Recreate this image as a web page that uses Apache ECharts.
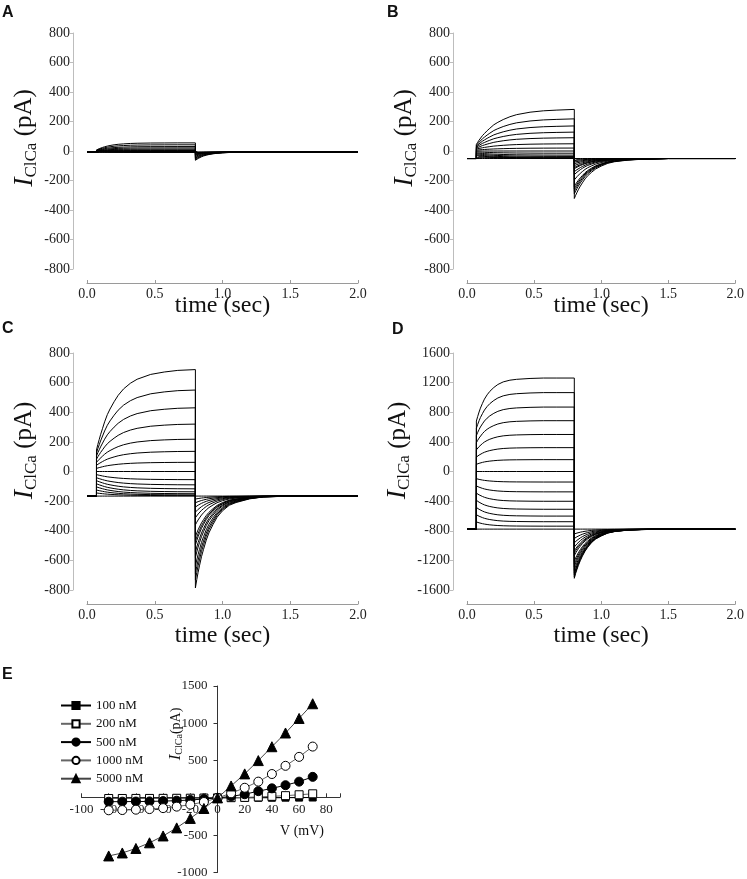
<!DOCTYPE html>
<html><head><meta charset="utf-8">
<script src="https://cdn.jsdelivr.net/npm/echarts@6/dist/echarts.min.js"></script>
<style>html,body{margin:0;padding:0;background:#fff}#c{width:747px;height:879px}</style>
</head><body><div id="c"></div><script>
// ---- data ----
const voltages = [-80,-70,-60,-50,-40,-30,-20,-10,0,10,20,30,40,50,60,70];
// steady-state I-V (panel E), pA
const iv100  = [-4,-4,-4,-3,-3,-2,-2,-1,0,1,1,2,2,3,4,5];
const iv200  = [-8,-8,-7,-7,-6,-5,-4,-2,0,3,7,13,21,30,42,55];
const iv500  = [-51,-50,-49,-47,-43,-37,-28,-15,0,20,49,90,128,170,218,282];
const iv1000 = [-166,-163,-158,-150,-137,-117,-90,-55,0,62,136,218,320,430,550,688];
const iv5000 = [-778,-738,-678,-602,-510,-402,-275,-142,0,160,322,500,686,870,1065,1262];
// instantaneous current at pulse onset (t = 0.07 s), per voltage
const initA = [-8,-7,-6,-5,-4,-3,-2,-1,0,1,2,3,4,5,6,7];
const initB = [-51,-45,-38,-32,-26,-19,-13,-6,0,6,13,19,26,32,38,45];
const initC = [-166,-145,-125,-104,-83,-62,-42,-21,0,21,42,62,83,104,125,145];
const initD = [-778,-681,-584,-486,-389,-292,-195,-97,0,97,195,292,389,486,584,681];
// tail current peak at t = 0.8 s, per voltage
const tailPkA = [-8,-9,-9,-11,-12,-13,-16,-16,-20,-24,-28,-35,-42,-48,-56,-63];
const tailPkB = [-51,-57,-65,-75,-86,-99,-112,-120,-140,-160,-196,-240,-256,-272,-291,-322];
const tailPkC = [-166,-186,-211,-240,-274,-312,-360,-440,-470,-496,-544,-581,-640,-688,-733,-786];
const tailPkD = [-778,-843,-904,-963,-1020,-1072,-1100,-1136,-1210,-1250,-1288,-1333,-1372,-1392,-1420,-1442];
// activation time course (fraction of the way from onset to steady state)
const actT = [0,0.01,0.02,0.03,0.045,0.06,0.08,0.1,0.13,0.16,0.2,0.25,0.3,0.4,0.5,0.6,0.73];
const actA = [0,0.1,0.18,0.26,0.36,0.45,0.55,0.63,0.73,0.8,0.86,0.92,0.95,0.98,0.99,1,1];
const actB = [0,0.06,0.12,0.17,0.25,0.31,0.39,0.46,0.56,0.63,0.71,0.79,0.85,0.92,0.96,0.98,1];
const actC = [0,0.07,0.13,0.19,0.27,0.35,0.44,0.51,0.6,0.68,0.76,0.83,0.88,0.94,0.97,0.99,1];
const actD = [0,0.11,0.21,0.3,0.41,0.51,0.61,0.69,0.78,0.85,0.91,0.95,0.97,0.99,1,1,1];
// tail time course (fraction of tail amplitude remaining)
const tailT = [0,0.01,0.02,0.03,0.045,0.06,0.08,0.1,0.13,0.16,0.2,0.25,0.3,0.4,0.5,0.7,1.2];
const decA = [1,0.88,0.78,0.69,0.57,0.47,0.37,0.29,0.2,0.14,0.08,0.04,0.02,0.01,0,0,0];
const decB = [1,0.92,0.85,0.78,0.69,0.61,0.51,0.43,0.34,0.26,0.19,0.12,0.08,0.04,0.02,0,0];
const decC = [1,0.91,0.83,0.76,0.66,0.58,0.48,0.4,0.31,0.23,0.16,0.1,0.07,0.03,0.01,0,0];
const decD = [1,0.9,0.82,0.74,0.64,0.55,0.45,0.37,0.27,0.2,0.14,0.08,0.05,0.02,0.01,0,0];
const pulseOn = 0.07, pulseOff = 0.8, tEnd = 2.0;
const timeTicks = ['0.0','0.5','1.0','1.5','2.0'];
const seriesNames = ['100 nM','200 nM','500 nM','1000 nM','5000 nM'];

// ---- layout / style ----
const SERIF = 'Liberation Serif';
const panels = [
  {ss: iv200,  init: initA, pk: tailPkA, act: actA, dec: decA, left: 87,  top: 33,  h: 236, min: -800,  max: 800,  step: 200, gapX: 11, shift: 26},
  {ss: iv500,  init: initB, pk: tailPkB, act: actB, dec: decB, left: 467, top: 33,  h: 236, min: -800,  max: 800,  step: 200, gapX: 11, shift: 26},
  {ss: iv1000, init: initC, pk: tailPkC, act: actC, dec: decC, left: 87,  top: 353, h: 237, min: -800,  max: 800,  step: 200, gapX: 20, shift: 42},
  {ss: iv5000, init: initD, pk: tailPkD, act: actD, dec: decD, left: 467, top: 353, h: 237, min: -1600, max: 1600, step: 400, gapX: 20, shift: 42}
];

const grids = [], xAxes = [], yAxes = [], series = [];
const yName = '{i|I}{s|ClCa}{p| (pA)}';
panels.forEach((p, gi) => {
  grids.push({left: p.left, top: p.top, width: 271, height: p.h, containLabel: false});
  xAxes.push({
    gridIndex: gi, type: 'value', min: 0, max: 2, interval: 0.5, offset: 14,
    axisLine: {onZero: false, lineStyle: {color: '#9a9a9a', width: 1}},
    axisTick: {show: true, inside: true, length: 3, lineStyle: {color: '#9a9a9a'}},
    axisLabel: {margin: 4, fontSize: 14, color: '#222', fontFamily: SERIF,
      formatter: v => timeTicks[Math.round(v / 0.5)]},
    splitLine: {show: false},
    name: 'time (sec)', nameLocation: 'middle', nameGap: p.gapX, nameMoveOverlap: false,
    nameTextStyle: {fontSize: 24, color: '#111', fontFamily: SERIF}
  });
  yAxes.push({
    gridIndex: gi, type: 'value', min: p.min, max: p.max, interval: p.step, offset: 14,
    axisLine: {show: true, onZero: false, lineStyle: {color: '#bdbdbd', width: 1}},
    axisTick: {show: true, length: 3, lineStyle: {color: '#bdbdbd'}},
    axisLabel: {margin: 3, fontSize: 14, color: '#222', fontFamily: SERIF, formatter: v => String(v)},
    splitLine: {show: false},
    name: yName, nameLocation: 'middle', nameGap: 33,
    nameTextStyle: {color: '#111', fontFamily: SERIF, padding: [0, 0, 0, p.shift],
      rich: {
        i: {fontSize: 28, fontStyle: 'italic', fontFamily: SERIF, color: '#111'},
        s: {fontSize: 17, fontFamily: SERIF, color: '#111', padding: [14, 0, 0, 0]},
        p: {fontSize: 25, fontFamily: SERIF, color: '#111'}
      }}
  });
  const hold = p.ss[0];
  voltages.forEach((v, k) => {
    const pts = [[0, hold], [pulseOn, hold]];
    actT.forEach((t, i) => pts.push([pulseOn + t, p.init[k] + (p.ss[k] - p.init[k]) * p.act[i]]));
    tailT.forEach((t, i) => pts.push([pulseOff + t, hold + (p.pk[k] - hold) * p.dec[i]]));
    series.push({
      type: 'line', xAxisIndex: gi, yAxisIndex: gi, data: pts, symbol: 'none',
      lineStyle: {color: '#000', width: 1}, silent: true, animation: false, z: 2
    });
  });
});

// panel E  (axes cross at the origin)
const gE = panels.length;
const eLeft = 81.5, eTop = 686, eW = 258.4, eH = 188;
grids.push({left: eLeft, top: eTop, width: eW, height: eH, containLabel: false});
xAxes.push({
  gridIndex: gE, type: 'value', min: -100, max: 90, interval: 20, position: 'bottom',
  offset: -(eH * 1000 / 2500),
  axisLine: {onZero: false, lineStyle: {color: '#333', width: 1}},
  axisTick: {show: true, inside: true, length: 4, lineStyle: {color: '#333'}},
  axisLabel: {margin: 6, fontSize: 13, color: '#222', fontFamily: SERIF,
    formatter: v => (v > 80 ? '' : String(v))},
  splitLine: {show: false}
});
yAxes.push({
  gridIndex: gE, type: 'value', min: -1000, max: 1500, interval: 500, position: 'left',
  offset: -(eW * 100 / 190),
  axisLine: {onZero: false, lineStyle: {color: '#333', width: 1}},
  axisTick: {show: true, length: 4, lineStyle: {color: '#333'}},
  axisLabel: {margin: 10, fontSize: 13, color: '#222', fontFamily: SERIF, formatter: v => String(v)},
  splitLine: {show: false}
});
const ivSets = [iv100, iv200, iv500, iv1000, iv5000];
const symbols = ['rect', 'rect', 'circle', 'circle', 'triangle'];
const sizes = [7, 8, 9, 9, 10];
const filled = [true, false, true, false, true];
const legendLine = ['#000', '#666', '#000', '#666', '#444'];
ivSets.forEach((arr, j) => {
  series.push({
    name: seriesNames[j], type: 'line', xAxisIndex: gE, yAxisIndex: gE,
    data: voltages.map((v, k) => [v, arr[k]]),
    symbol: symbols[j], symbolSize: sizes[j], showAllSymbol: true,
    itemStyle: {color: filled[j] ? '#000' : '#fff', borderColor: '#000', borderWidth: 1},
    lineStyle: {color: legendLine[j], width: 1},
    animation: false, z: 3 + j
  });
});

const chart = echarts.init(document.getElementById('c'), null, {renderer: 'canvas'});
chart.setOption({
  backgroundColor: '#fff',
  animation: false,
  grid: grids, xAxis: xAxes, yAxis: yAxes, series: series,
  legend: {
    data: seriesNames, orient: 'vertical', left: 55, top: 694,
    itemWidth: 30, itemHeight: 9, itemGap: 5.3,
    textStyle: {fontFamily: SERIF, fontSize: 13, color: '#111'},
    selectedMode: false
  },
  graphic: [
    {type: 'text', left: 2, top: 5, style: {text: 'A', font: 'bold 16px "Liberation Sans"', fill: '#111'}},
    {type: 'text', left: 387, top: 5, style: {text: 'B', font: 'bold 16px "Liberation Sans"', fill: '#111'}},
    {type: 'text', left: 2, top: 321, style: {text: 'C', font: 'bold 16px "Liberation Sans"', fill: '#111'}},
    {type: 'text', left: 392, top: 322, style: {text: 'D', font: 'bold 16px "Liberation Sans"', fill: '#111'}},
    {type: 'text', left: 2, top: 667, style: {text: 'E', font: 'bold 16px "Liberation Sans"', fill: '#111'}},
    {type: 'text', x: 176, y: 734, rotation: Math.PI / 2,
      style: {text: '{i|I}{s|ClCa}{p|(pA)}', align: 'center', verticalAlign: 'middle',
        rich: {
          i: {fontSize: 17, fontStyle: 'italic', fontFamily: SERIF, fill: '#111'},
          s: {fontSize: 10, fontFamily: SERIF, fill: '#111', padding: [7, 0, 0, 0]},
          p: {fontSize: 14, fontFamily: SERIF, fill: '#111'}
        }}},
    {type: 'text', x: 302, y: 831,
      style: {text: 'V (mV)', align: 'center', verticalAlign: 'middle', font: '14px "Liberation Serif"', fill: '#111'}}
  ]
});
</script></body></html>
